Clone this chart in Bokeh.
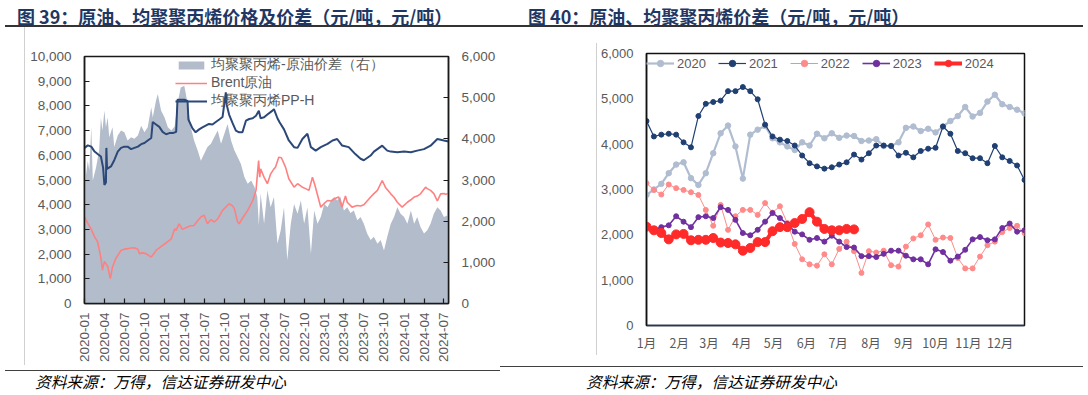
import math
import pandas as pd
from bokeh.plotting import figure
from bokeh.layouts import row, column
from bokeh.models import (Range1d, LinearAxis, FixedTicker, NumeralTickFormatter,
                          DatetimeTickFormatter, Div)
from bokeh.embed import file_html
from bokeh.resources import INLINE

# ------------------------------------------------------------------ data: chart 39
title_left = "图 39：原油、均聚聚丙烯价格及价差（元/吨，元/吨）"
title_right = "图 40：原油、均聚聚丙烯价差（元/吨，元/吨）"
source_text = "资料来源：万得，信达证券研发中心"

x_tick_labels = ["2020-01", "2020-04", "2020-07", "2020-10", "2021-01", "2021-04", "2021-07",
                 "2021-10", "2022-01", "2022-04", "2022-07", "2022-10", "2023-01", "2023-04",
                 "2023-07", "2023-10", "2024-01", "2024-04", "2024-07"]

pp_dates = ["2020-01-01", "2020-01-16", "2020-02-01", "2020-02-16", "2020-03-01", "2020-03-16",
            "2020-03-26", "2020-04-01", "2020-04-08", "2020-04-10", "2020-04-13", "2020-05-01",
            "2020-05-16", "2020-06-01", "2020-06-16", "2020-07-01", "2020-07-16", "2020-08-01",
            "2020-08-16", "2020-09-01", "2020-09-16", "2020-10-01", "2020-10-16", "2020-11-01",
            "2020-11-08", "2020-11-23", "2020-12-08", "2020-12-23", "2021-01-08", "2021-01-23",
            "2021-02-08", "2021-02-23", "2021-03-01", "2021-03-16", "2021-04-01", "2021-04-16",
            "2021-04-20", "2021-05-08", "2021-05-23", "2021-06-08", "2021-06-23", "2021-07-08",
            "2021-07-23", "2021-08-08", "2021-08-23", "2021-09-08", "2021-09-23", "2021-10-08",
            "2021-10-12", "2021-10-23", "2021-11-08", "2021-11-23", "2021-12-08", "2021-12-23",
            "2022-01-08", "2022-01-23", "2022-02-08", "2022-02-23", "2022-03-08", "2022-03-16",
            "2022-04-01", "2022-04-16", "2022-05-08", "2022-05-16", "2022-06-01", "2022-06-10",
            "2022-07-01", "2022-07-23", "2022-08-16", "2022-09-01", "2022-09-23", "2022-10-16",
            "2022-11-01", "2022-11-23", "2022-12-16", "2023-01-16", "2023-02-08", "2023-03-01",
            "2023-03-23", "2023-04-23", "2023-05-23", "2023-06-16", "2023-07-01", "2023-08-01",
            "2023-08-16", "2023-09-23", "2023-10-16", "2023-11-01", "2023-12-01", "2024-01-01",
            "2024-02-01", "2024-03-01", "2024-04-01", "2024-05-01", "2024-06-01", "2024-07-01",
            "2024-07-22"]
pp_vals = [6300, 6400, 6350, 6150, 6050, 5950,
           5500, 4800, 4900, 6300, 5450, 5550,
           5800, 6150, 6300, 6350, 6350, 6250,
           6300, 6350, 6450, 6500, 6600, 6700,
           7350, 7250, 7150, 6950, 6850, 6900,
           6900, 6950, 8250, 8250, 8250, 8200,
           7450, 7100, 6930, 7050, 7130, 7200,
           7270, 7250, 7350, 7450, 7550, 8550,
           8050, 7650, 7300, 7000, 6930, 6930,
           7400, 7470, 7500, 7600, 7800, 7500,
           7540, 7650, 7800, 7870, 7500, 7350,
           7050, 6600, 6330, 6300, 6660, 6870,
           6330, 6190, 6330, 6460, 6600, 6660,
           6400, 6330, 6050, 5860, 5800, 5990,
           6150, 6390, 6190, 6150, 6125, 6150,
           6125, 6190, 6250, 6390, 6660, 6600,
           6560]

brent_dates = ["2020-01-01", "2020-01-16", "2020-02-01", "2020-02-16", "2020-03-01", "2020-03-16",
               "2020-03-23", "2020-04-01", "2020-04-16", "2020-04-28", "2020-05-08", "2020-05-23",
               "2020-06-16", "2020-07-01", "2020-07-16", "2020-08-01", "2020-08-16", "2020-09-01",
               "2020-09-08", "2020-09-23", "2020-10-08", "2020-11-01", "2020-11-16", "2020-11-23",
               "2020-12-08", "2020-12-23", "2021-01-08", "2021-01-23", "2021-02-01", "2021-02-16",
               "2021-02-23", "2021-03-08", "2021-03-23", "2021-04-16", "2021-05-01", "2021-05-16",
               "2021-06-01", "2021-06-16", "2021-07-01", "2021-07-16", "2021-08-01", "2021-08-16",
               "2021-09-01", "2021-09-23", "2021-10-08", "2021-10-23", "2021-11-08", "2021-11-16",
               "2021-12-01", "2021-12-08", "2021-12-23", "2022-01-16", "2022-02-08", "2022-02-23",
               "2022-03-07", "2022-03-12", "2022-03-16", "2022-04-01", "2022-04-16", "2022-05-01",
               "2022-05-16", "2022-05-23", "2022-06-07", "2022-06-19", "2022-07-08", "2022-07-23",
               "2022-08-16", "2022-09-01", "2022-09-23", "2022-10-08", "2022-10-23", "2022-11-08",
               "2022-11-19", "2022-12-01", "2022-12-16", "2023-01-01", "2023-01-16", "2023-02-01",
               "2023-02-16", "2023-03-08", "2023-03-23", "2023-04-08", "2023-04-16", "2023-05-08",
               "2023-05-23", "2023-06-01", "2023-06-16", "2023-07-01", "2023-07-16", "2023-08-01",
               "2023-08-16", "2023-09-01", "2023-09-23", "2023-10-08", "2023-11-01", "2023-11-16",
               "2023-12-01", "2023-12-23", "2024-01-16", "2024-02-01", "2024-02-16", "2024-03-01",
               "2024-03-16", "2024-04-08", "2024-04-16", "2024-05-01", "2024-05-16", "2024-06-01",
               "2024-06-16", "2024-07-01", "2024-07-08", "2024-07-22"]
brent_vals = [3500, 3250, 3000, 2700, 2500, 1850,
              1350, 1700, 1500, 1010, 1480, 1820,
              2150, 2200, 2220, 2250, 2260, 2200,
              2020, 2050, 2020, 1880, 2050, 2150,
              2250, 2350, 2450, 2560, 2620, 3030,
              2960, 3230, 3000, 3100, 3150, 3160,
              3350, 3500, 3570, 3230, 3400, 3300,
              3430, 3770, 3900, 4040, 3950, 3840,
              3300, 3230, 3450, 3770, 4170, 4580,
              5790, 5110, 5450, 5110, 4850, 5250,
              5450, 5520, 5920, 5900, 5520, 5050,
              4710, 4850, 4710, 4650, 4580, 5110,
              4800, 4400, 3900, 4050, 4170, 4150,
              4240, 4310, 3900, 4350, 4100, 3900,
              3950, 3970, 3950, 4000, 4150, 4310,
              4450, 4580, 4980, 4700, 4440, 4300,
              4100, 3900, 4100, 4200, 4310, 4350,
              4440, 4710, 4650, 4580, 4450, 4150,
              4440, 4450, 4420, 4450]

spread_dates = ["2020-01-01", "2020-01-16", "2020-01-23", "2020-02-01", "2020-02-08", "2020-02-23",
                "2020-03-08", "2020-03-16", "2020-03-23", "2020-04-01", "2020-04-08", "2020-04-16",
                "2020-04-23", "2020-05-08", "2020-05-16", "2020-06-01", "2020-06-16", "2020-07-01",
                "2020-07-16", "2020-08-01", "2020-08-16", "2020-09-01", "2020-09-16", "2020-10-01",
                "2020-10-16", "2020-11-01", "2020-11-08", "2020-11-23", "2020-12-01", "2020-12-16",
                "2021-01-01", "2021-01-16", "2021-02-01", "2021-02-16", "2021-03-01", "2021-03-16",
                "2021-04-01", "2021-04-08", "2021-04-16", "2021-05-01", "2021-05-16", "2021-06-01",
                "2021-06-16", "2021-07-01", "2021-07-16", "2021-08-01", "2021-08-16", "2021-09-01",
                "2021-09-16", "2021-10-01", "2021-10-16", "2021-11-01", "2021-11-16", "2021-12-01",
                "2021-12-16", "2022-01-01", "2022-01-16", "2022-02-01", "2022-02-16", "2022-03-01",
                "2022-03-08", "2022-03-16", "2022-04-01", "2022-04-16", "2022-05-01", "2022-05-16",
                "2022-06-01", "2022-06-16", "2022-07-01", "2022-07-16", "2022-08-01", "2022-08-16",
                "2022-09-01", "2022-09-16", "2022-10-01", "2022-10-16", "2022-11-01", "2022-11-16",
                "2022-12-01", "2022-12-16", "2023-01-01", "2023-01-16", "2023-02-01", "2023-02-16",
                "2023-03-01", "2023-03-16", "2023-04-01", "2023-04-16", "2023-05-01", "2023-05-16",
                "2023-06-01", "2023-06-16", "2023-07-01", "2023-07-16", "2023-08-01", "2023-08-16",
                "2023-09-01", "2023-09-16", "2023-10-01", "2023-10-16", "2023-11-01", "2023-11-16",
                "2023-12-01", "2023-12-16", "2024-01-01", "2024-01-16", "2024-02-01", "2024-02-16",
                "2024-03-01", "2024-03-16", "2024-04-01", "2024-04-16", "2024-05-01", "2024-05-16",
                "2024-06-01", "2024-06-16", "2024-07-01", "2024-07-16", "2024-07-22"]
spread_vals = [2830, 3470, 3230, 4280, 2990, 3310,
               3720, 4520, 4200, 4690, 4280, 4520,
               4040, 4280, 3800, 4080, 4200, 4160,
               3960, 4040, 4000, 4080, 4320, 4160,
               4280, 4770, 4520, 4930, 5090, 4690,
               4520, 4280, 4200, 4300, 4850, 5250,
               5290, 5100, 4850, 4280, 3960, 3720,
               3470, 3640, 3800, 3880, 4040, 4200,
               3880, 4120, 4360, 3960, 3720, 3560,
               3390, 3070, 2910, 2990, 2830, 2590,
               1900, 2670, 1940, 2750, 2340, 2590,
               1450, 1780, 2340, 1050, 1940, 2420,
               2180, 2500, 1940, 2340, 1210, 2260,
               1940, 2100, 2420, 2340, 2500, 2590,
               2500, 2590, 2260, 2340, 2200, 2260,
               2020, 2100, 1940, 1700, 1540, 1620,
               1450, 1540, 1290, 1620, 1940, 2100,
               2340, 2180, 2100, 1940, 2260, 1940,
               2100, 1860, 1700, 1780, 1940, 2180,
               2340, 2260, 2100, 2140, 2100]

# ------------------------------------------------------------------ data: chart 40
month_labels = ["1月", "2月", "3月", "4月", "5月", "6月", "7月", "8月", "9月", "10月", "11月", "12月"]
month_start_day = [0, 31, 59, 90, 120, 151, 181, 212, 243, 273, 304, 334]

y2020 = [2880, 3000, 3125, 3360, 3550, 3600, 3250, 3100, 3360, 3800, 4240, 4410, 3950, 3240,
         4210, 4320, 4400, 4130, 4040, 3950, 3870, 4040, 3970, 4230, 4130, 4240, 4140, 4190,
         4180, 4070, 4080, 4110, 3960, 3960, 4040, 4360, 4390, 4290, 4340, 4260, 4390, 4510,
         4620, 4820, 4610, 4690, 4940, 5090, 4880, 4820, 4760, 4680]
y2021 = [4510, 4170, 4210, 4230, 4210, 4040, 3930, 4620, 4890, 4930, 4960, 5170, 5170, 5260,
         5170, 4990, 4430, 4170, 4100, 4070, 3970, 3750, 3580, 3510, 3460, 3490, 3550, 3600,
         3770, 3660, 3800, 3970, 3970, 3960, 3750, 3810, 3710, 3850, 3900, 3920, 4390, 4230,
         3850, 3800, 3690, 3690, 3580, 3960, 3710, 3630, 3530, 3210]
y2022 = [3140, 2990, 2890, 3110, 3030, 2990, 2940, 2880, 2550, 2200, 2660, 2110, 2410, 2550,
         2550, 2440, 2700, 2490, 2630, 2260, 1800, 1460, 1350, 1320, 1570, 1350, 1690, 1850,
         1640, 1160, 1640, 1610, 1650, 1330, 1300, 1740, 1920, 1990, 2230, 1890, 1940, 1930,
         1490, 1260, 1260, 1520, 1770, 1850, 2060, 2150, 2200, 2040]
y2023 = [2180, 2110, 2170, 2210, 2410, 2290, 2170, 2390, 2410, 2370, 2610, 2550, 2330, 2040,
         1990, 2110, 2290, 2480, 2370, 2240, 2070, 2010, 1890, 1930, 1850, 1980, 1850, 1730,
         1720, 1530, 1530, 1510, 1580, 1650, 1650, 1540, 1460, 1460, 1350, 1680, 1620, 1430,
         1520, 1670, 1900, 1950, 1880, 1900, 2150, 2250, 2070, 2100]
y2024 = [2180, 2100, 2040, 1900, 2010, 2020, 1880, 1890, 1890, 1930, 1830, 1820, 1790, 1650,
         1710, 1840, 1840, 2080, 2170, 2170, 2260, 2350, 2500, 2290, 2130, 2100, 2100, 2130, 2120]

# ------------------------------------------------------------------ styling helpers
GREY = "#595959"
NUM_FONT = "Liberation Sans"
CJK_FONT = "Noto Sans CJK SC"
HOST_STYLE = {"font-size": "0px", "line-height": "0px"}


def no_frame_align(p):
    try:
        p.frame_align = False
    except Exception:
        pass


# ================================================================== chart 39
x0 = pd.Timestamp("2020-01-01")
x1 = pd.Timestamp("2024-07-22")
p1 = figure(width=515, height=338, x_axis_type="datetime", title=None,
            x_range=Range1d(x0, x1), y_range=Range1d(0, 10000),
            output_backend="svg", toolbar_location=None,
            min_border_left=59, min_border_right=92, min_border_top=29, min_border_bottom=62)
no_frame_align(p1)
p1.extra_y_ranges = {"right": Range1d(0, 6000)}
p1.xgrid.visible = False
p1.ygrid.visible = False
p1.outline_line_color = "#1a1a1a"
p1.outline_line_width = 1.5

p1.varea(x=pd.to_datetime(spread_dates), y1=0, y2=spread_vals, y_range_name="right",
         fill_color="#b2bccb", fill_alpha=1.0, legend_label="均聚聚丙烯-原油价差（右）")
p1.line(pd.to_datetime(brent_dates), brent_vals, line_color="#ff8080", line_width=1.6,
        legend_label="Brent原油")
p1.line(pd.to_datetime(pp_dates), pp_vals, line_color="#2b4878", line_width=2.0,
        legend_label="均聚聚丙烯PP-H")

right_ax = LinearAxis(y_range_name="right")
p1.add_layout(right_ax, "right")

tick_ms = [pd.Timestamp(s + "-01").timestamp() * 1000 for s in x_tick_labels]
p1.xaxis.ticker = FixedTicker(ticks=tick_ms)
fmt = "%Y-%m"
p1.xaxis.formatter = DatetimeTickFormatter(microseconds=fmt, milliseconds=fmt, seconds=fmt,
                                           minsec=fmt, minutes=fmt, hourmin=fmt, hours=fmt,
                                           days=fmt, months=fmt, years=fmt)
p1.xaxis.major_label_orientation = math.pi / 2
p1.xaxis.major_label_standoff = 9
p1.yaxis[0].ticker = FixedTicker(ticks=list(range(0, 10001, 1000)))
right_ax.ticker = FixedTicker(ticks=list(range(0, 6001, 1000)))
for ax in [p1.xaxis[0], p1.yaxis[0], right_ax]:
    ax.axis_line_color = "#1a1a1a"
    ax.axis_line_width = 1.5
    ax.major_tick_in = 5
    ax.major_tick_out = 0
    ax.major_tick_line_color = "#1a1a1a"
    ax.major_tick_line_width = 1.2
    ax.minor_tick_in = 0
    ax.minor_tick_out = 0
    ax.major_label_text_color = GREY
    ax.major_label_text_font = NUM_FONT
    ax.major_label_text_font_size = "13.5px"
for ax in [p1.yaxis[0], right_ax]:
    ax.formatter = NumeralTickFormatter(format="0,0")
    ax.major_label_standoff = 13

lg1 = p1.legend[0]
lg1.location = (91, 193)
lg1.padding = 0
lg1.margin = 0
lg1.spacing = 0
lg1.glyph_width = 32
lg1.glyph_height = 10
lg1.label_height = 17
lg1.label_standoff = 4
lg1.label_text_font = NUM_FONT
lg1.label_text_font_size = "14px"
lg1.label_text_color = GREY
lg1.background_fill_alpha = 0
lg1.border_line_alpha = 0

# ================================================================== chart 40
p2 = figure(width=489, height=338, title=None,
            x_range=Range1d(0, 357), y_range=Range1d(0, 6000),
            output_backend="svg", toolbar_location=None,
            min_border_left=46, min_border_right=62, min_border_top=26, min_border_bottom=40)
no_frame_align(p2)
p2.xgrid.visible = False
p2.ygrid.visible = False
p2.outline_line_color = "#111111"
p2.outline_line_width = 1.5

series = [
    ("2020", y2020, "#b0bdd1", 2.2, 5.5),
    ("2021", y2021, "#203f73", 1.2, 5.0),
    ("2022", y2022, "#ff8a8a", 1.0, 5.0),
    ("2023", y2023, "#7030a0", 1.6, 5.0),
    ("2024", y2024, "#ff2a2a", 4.0, 9.0),
]
for name, vals, col, lw, ms in series:
    xs = [7 * i for i in range(len(vals))]
    p2.line(xs, vals, line_color=col, line_width=lw, legend_label=name)
    p2.scatter(xs, vals, marker="circle", size=ms, fill_color=col, line_color=col,
               legend_label=name)

p2.xaxis.ticker = FixedTicker(ticks=month_start_day)
p2.xaxis.major_label_overrides = {d: lab for d, lab in zip(month_start_day, month_labels)}
p2.yaxis.ticker = FixedTicker(ticks=list(range(0, 6001, 1000)))
p2.yaxis.formatter = NumeralTickFormatter(format="0,0")
for ax in [p2.xaxis[0], p2.yaxis[0]]:
    ax.major_tick_in = 0
    ax.major_tick_out = 0
    ax.minor_tick_in = 0
    ax.minor_tick_out = 0
    ax.major_label_text_color = GREY
p2.xaxis.axis_line_color = "#203864"
p2.xaxis.axis_line_width = 1.5
p2.yaxis.axis_line_color = "#111111"
p2.yaxis.axis_line_width = 1.5
p2.xaxis.major_label_text_font = CJK_FONT
p2.xaxis.major_label_text_font_size = "12.5px"
p2.xaxis.major_label_standoff = 7
p2.yaxis.major_label_text_font = NUM_FONT
p2.yaxis.major_label_text_font_size = "13px"
p2.yaxis.major_label_standoff = 13

lg2 = p2.legend[0]
lg2.orientation = "horizontal"
lg2.location = (0, 254)
lg2.padding = 0
lg2.margin = 0
lg2.spacing = 12
lg2.glyph_width = 28
lg2.glyph_height = 16
lg2.label_height = 16
lg2.label_standoff = 3
lg2.label_text_font = NUM_FONT
lg2.label_text_font_size = "13px"
lg2.label_text_color = GREY
lg2.background_fill_alpha = 0
lg2.border_line_alpha = 0

# ================================================================== page furniture
def text_div(text, width, height, pad_left, pad_top, size, weight, style, color, lh):
    html = ('<div style="box-sizing:border-box;width:%dpx;height:%dpx;padding-left:%dpx;'
            'padding-top:%dpx;font-family:\'Noto Sans CJK SC\',sans-serif;font-weight:%s;'
            'font-style:%s;font-size:%s;line-height:%dpx;color:%s;white-space:nowrap;">%s</div>'
            % (width, height, pad_left, pad_top, weight, style, size, lh, color, text))
    return Div(text=html, width=width, height=height, margin=0, styles=HOST_STYLE)


def line_div(width, height, mleft, mtop, lwidth, thick, color):
    html = ('<div style="width:%dpx;height:%dpx;"><div style="box-sizing:border-box;'
            'width:%dpx;height:%dpx;margin-left:%dpx;margin-top:%dpx;'
            'border-top:%dpx solid %s;"></div></div>'
            % (width, height, lwidth, thick, mleft, mtop, thick, color))
    return Div(text=html, width=width, height=height, margin=0, styles=HOST_STYLE)


def vline_div(width, height, mtop, lheight, color):
    html = ('<div style="width:%dpx;height:%dpx;"><div style="box-sizing:border-box;'
            'width:%dpx;height:%dpx;margin-top:%dpx;border-right:1px solid %s;"></div></div>'
            % (width, height, width, lheight, mtop, color))
    return Div(text=html, width=width, height=height, margin=0, styles=HOST_STYLE)


row_titles = row(
    text_div(title_left, 515, 25, 17, 7, "18px", "bold", "normal", "#1f3763", 18),
    text_div(title_right, 571, 25, 13, 7, "18px", "bold", "normal", "#1f3763", 18),
    spacing=0)
row_rule = row(line_div(1086, 2, 5, 0, 1078, 2, "#333333"), spacing=0)
row_charts = row(vline_div(25, 338, 0, 338, "#d0d0d0"), p1,
                 vline_div(57, 338, 16, 312, "#d0d0d0"), p2, spacing=0)
row_source = row(
    column(line_div(500, 6, 5, 5, 495, 1, "#404040"),
           text_div(source_text, 500, 22, 35, 2, "15.7px", "normal", "italic", "#000000", 18),
           spacing=0),
    column(line_div(586, 6, 0, 1, 583, 1, "#404040"),
           text_div(source_text, 586, 22, 86, 2, "15.7px", "normal", "italic", "#000000", 18),
           spacing=0),
    spacing=0)

layout = column(row_titles, row_rule, row_charts, row_source, spacing=0)

open("out.html", "w").write(file_html(layout, INLINE))
